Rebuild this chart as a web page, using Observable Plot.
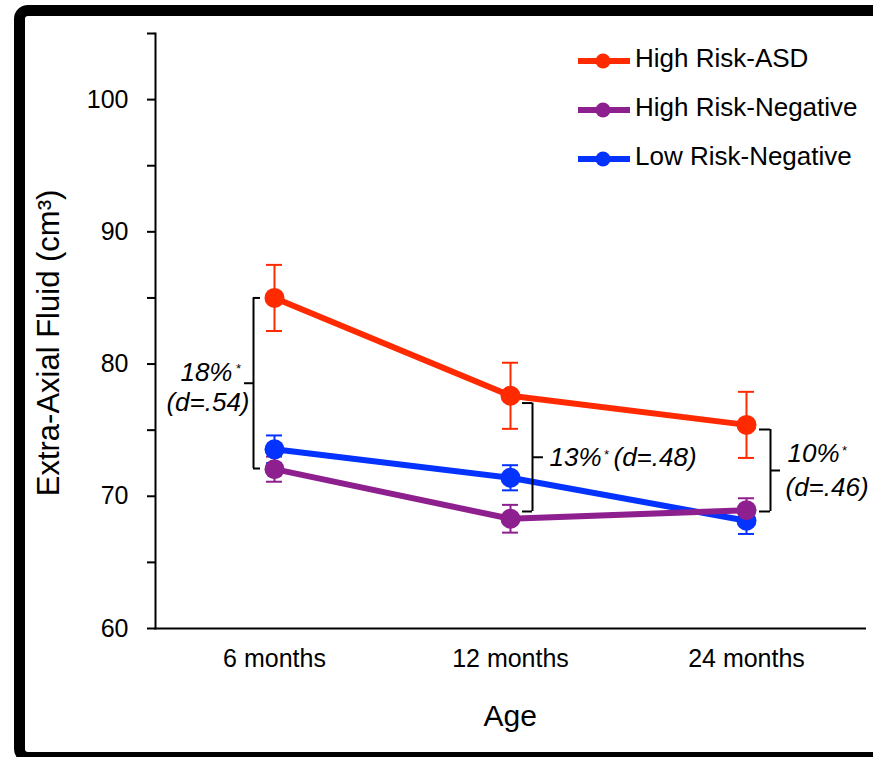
<!DOCTYPE html>
<html><head><meta charset="utf-8">
<script src="https://cdn.jsdelivr.net/npm/d3@7"></script>
<script src="https://cdn.jsdelivr.net/npm/@observablehq/plot@0.6"></script>
<style>
html,body{margin:0;padding:0;background:#fff;}
#wrap{position:relative;width:873px;height:757px;overflow:hidden;background:#fff;}
#border{position:absolute;left:14px;top:5px;width:1000px;height:758px;border:11px solid #000;border-radius:14px;box-sizing:border-box;pointer-events:none;}
</style></head><body>
<div id="wrap"><div id="chart"></div><div id="border"></div></div>
<script>
// ---- data ----
const ages = ["6 months", "12 months", "24 months"];
const seriesNames = ["High Risk-ASD", "High Risk-Negative", "Low Risk-Negative"];
const seriesColors = ["#FF2A00", "#8E1F8E", "#0433FF"];
const hrAsd = [85.0, 77.6, 75.4];
const hrAsdErr = [2.5, 2.5, 2.5];
const hrNeg = [72.05, 68.3, 68.95];
const hrNegErr = [0.95, 1.05, 0.9];
const lrNeg = [73.55, 71.4, 68.15];
const lrNegErr = [1.05, 0.95, 1.0];
const yTicks = [60, 65, 70, 75, 80, 85, 90, 95, 100, 105];
const yTickLabels = ["60", "", "70", "", "80", "", "90", "", "100", ""];
const yTitle = "Extra-Axial Fluid (cm³)";
const xTitle = "Age";
// bracket annotations
const bracketAge = ["6 months", "12 months", "24 months"];
const bracketTop = [85.0, 77.05, 75.05];
const bracketBottom = [72.1, 68.85, 68.85];
const bracketMid = [78.55, 72.95, 71.95];
const annoPct = ["18%", "13%", "10%"];
const annoD = ["(d=.54)", "(d=.48)", "(d=.46)"];
const annoPctY = [79.38, 72.93, 73.21];
const annoDY = [77.11, 72.93, 70.64];

// ---- build table (drawing order: blue, purple, red) ----
const seriesVals = {"High Risk-ASD": [hrAsd, hrAsdErr], "High Risk-Negative": [hrNeg, hrNegErr], "Low Risk-Negative": [lrNeg, lrNegErr]};
const drawOrder = ["Low Risk-Negative", "High Risk-Negative", "High Risk-ASD"];
const table = [];
for (const s of drawOrder) ages.forEach((a, i) => table.push({series: s, age: a, value: seriesVals[s][0][i], err: seriesVals[s][1][i]}));

const FONT = "'Liberation Sans', Arial, Helvetica, sans-serif";

// styles for brackets (pixel offsets only)
const bStyle = [
  {dx: -21, tipL: 0, tipR: -7, midL: -9, midR: 0, pct: {anchor: "end", dx: -42}, star: -39, d: {anchor: "end", dx: -25}},
  {dx: 22, tipL: -10, tipR: 0, midL: 0, midR: -11, pct: {anchor: "start", dx: 39}, star: 93, d: {anchor: "start", dx: 103}},
  {dx: 24, tipL: -11, tipR: 0, midL: 0, midR: -10, pct: {anchor: "start", dx: 41}, star: 95, d: {anchor: "start", dx: 39}}
];

const bracketMarks = [];
bracketAge.forEach((age, i) => {
  const s = bStyle[i];
  const b = {age, top: bracketTop[i], bottom: bracketBottom[i], mid: bracketMid[i]};
  bracketMarks.push(
    Plot.ruleX([b], {x: "age", y1: "top", y2: "bottom", dx: s.dx, stroke: "black", strokeWidth: 2}),
    Plot.ruleY([b.top, b.bottom], {x1: () => age, x2: () => age, y: d => d, dx: s.dx, insetLeft: s.tipL, insetRight: s.tipR, stroke: "black", strokeWidth: 2}),
    Plot.ruleY([b.mid], {x1: () => age, x2: () => age, y: d => d, dx: s.dx, insetLeft: s.midL, insetRight: s.midR, stroke: "black", strokeWidth: 2}),
    Plot.text([{age, y: annoPctY[i], t: annoPct[i]}], {x: "age", y: "y", text: "t", textAnchor: s.pct.anchor, dx: s.pct.dx, fontSize: 26, fontStyle: "italic", fill: "black"}),
    Plot.text([{age, y: annoPctY[i], t: "*"}], {x: "age", y: "y", text: "t", textAnchor: "start", dx: s.star, dy: -3, fontSize: 13, fontStyle: "italic", fill: "black"}),
    Plot.text([{age, y: annoDY[i], t: annoD[i]}], {x: "age", y: "y", text: "t", textAnchor: s.d.anchor, dx: s.d.dx, fontSize: 26, fontStyle: "italic", fill: "black"})
  );
});

const lo = d => d.value - d.err;
const hi = d => d.value + d.err;

const chart = Plot.plot({
  width: 873,
  height: 757,
  marginLeft: 155,
  marginRight: 8.5,
  marginTop: 33,
  marginBottom: 129,
  style: {fontFamily: FONT, fontSize: "25px", color: "black", background: "transparent"},
  x: {type: "point", domain: ages, padding: 0.5, label: null},
  y: {domain: [60, 105], label: null},
  color: {domain: seriesNames, range: seriesColors},
  marks: [
    Plot.ruleX(table, {x: "age", y1: lo, y2: hi, stroke: "series", strokeWidth: 2}),
    Plot.ruleY(table, {x1: "age", x2: "age", y: hi, stroke: "series", strokeWidth: 2, insetLeft: -8, insetRight: -8}),
    Plot.ruleY(table, {x1: "age", x2: "age", y: lo, stroke: "series", strokeWidth: 2, insetLeft: -8, insetRight: -8}),
    Plot.line(table, {x: "age", y: "value", z: "series", stroke: "series", strokeWidth: 6}),
    Plot.dot(table, {x: "age", y: "value", fill: "series", r: 10}),
    Plot.frame({anchor: "left", stroke: "black", strokeWidth: 2}),
    Plot.frame({anchor: "bottom", stroke: "black", strokeWidth: 2}),
    Plot.axisY(yTicks, {tickSize: 8, tickPadding: 19, strokeWidth: 2, fontSize: 25, tickFormat: d => yTickLabels[yTicks.indexOf(d)], label: null}),
    Plot.axisX({tickSize: 0, tickPadding: 21, fontSize: 25, label: null}),
    Plot.text([xTitle], {frameAnchor: "bottom", text: d => d, dy: 97, fontSize: 30, fill: "black"}),
    ...bracketMarks
  ]
});
document.getElementById("chart").appendChild(chart);

const svg = d3.select(chart);
// ---- y-axis title ----
svg.append("text")
  .attr("transform", "translate(59,343) rotate(-90)")
  .attr("text-anchor", "middle")
  .attr("font-family", FONT).attr("font-size", 31).attr("fill", "black")
  .text(yTitle);

// ---- legend (inside plot, top right) ----
const legRows = [61, 110, 159];
const lg = svg.append("g").attr("font-family", FONT).attr("font-size", 26).attr("text-anchor", "start");
seriesNames.forEach((name, i) => {
  const y = legRows[i];
  lg.append("line").attr("x1", 578).attr("x2", 630).attr("y1", y).attr("y2", y).attr("stroke", seriesColors[i]).attr("stroke-width", 6);
  lg.append("circle").attr("cx", 603).attr("cy", y).attr("r", 7.5).attr("fill", seriesColors[i]);
  lg.append("text").attr("x", 635).attr("y", y + 6).attr("fill", "black").attr("text-anchor", "start").text(name);
});
</script>
</body></html>
